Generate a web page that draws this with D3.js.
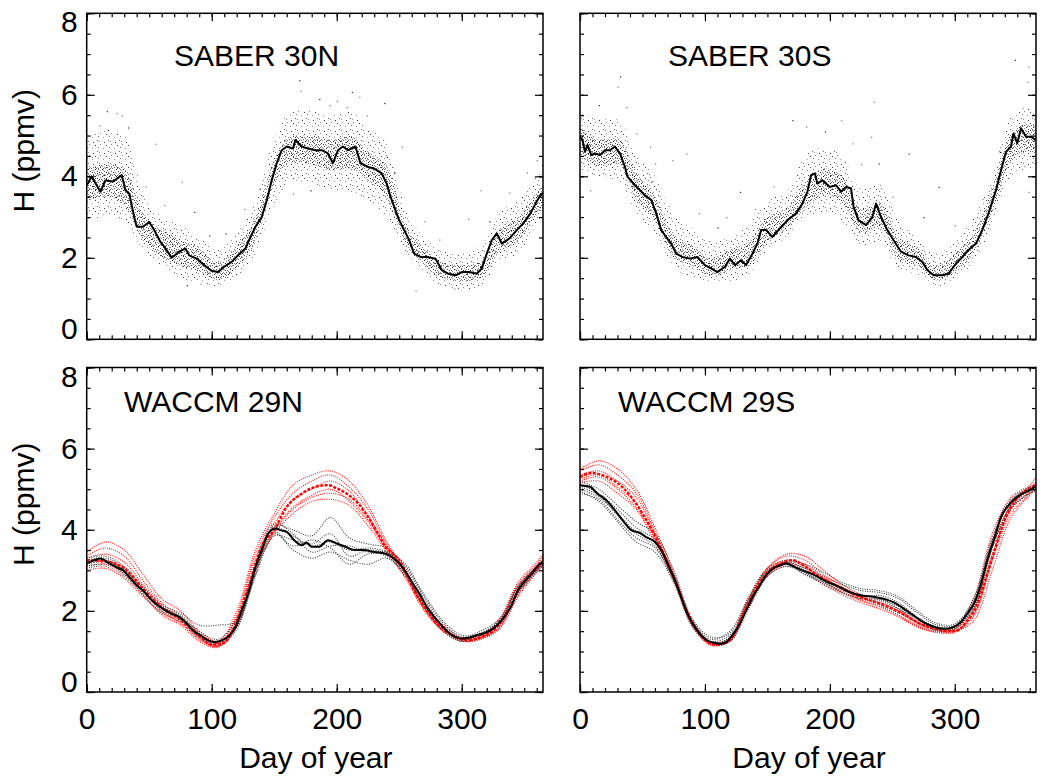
<!DOCTYPE html>
<html>
<head>
<meta charset="utf-8">
<script src="https://cdn.jsdelivr.net/npm/d3@7"></script>
<style>
  body { margin: 0; background: #fff; }
  svg text { font-family: "Liberation Sans", Arial, Helvetica, sans-serif; fill: #000; }
</style>
</head>
<body>
<svg id="chart" width="1041" height="778"></svg>
<script>
// ---- data (H in ppmv against day of year) ----

// SABER 30N : running line
var saberNDays = [0,4,11,15,21,28,31,34,38,40,45,50,54,59,63,68,74,79,82,88,94,100,105,110,116,121,127,131,135,140,
  144,148,152,156,160,165,167,172,177,183,188,193,197,201,205,209,215,219,225,230,236,240,243,246,250,254,258,262,267,272,
  279,284,289,295,300,306,312,316,320,324,328,332,338,344,349,355,359,363,365];
var saberNVals = [3.78,3.99,3.62,3.9,3.87,4.03,3.66,3.58,3.0,2.76,2.76,2.88,2.68,2.39,2.23,2.0,2.15,2.23,2.06,1.98,
  1.82,1.68,1.65,1.78,1.9,2.06,2.23,2.51,2.76,3.0,3.41,3.9,4.32,4.64,4.73,4.68,4.89,4.73,4.68,4.64,
  4.64,4.56,4.32,4.64,4.73,4.64,4.73,4.32,4.23,4.19,4.07,3.82,3.5,3.25,2.92,2.68,2.43,2.1,2.02,2.02,
  1.98,1.7,1.61,1.57,1.65,1.65,1.61,1.74,2.1,2.43,2.6,2.35,2.47,2.68,2.84,3.09,3.33,3.54,3.6];

// SABER 30S : running line
var saberSDays = [0,2,4,6,9,12,16,20,24,28,32,36,38,44,48,53,57,61,65,69,73,77,82,88,94,100,105,110,116,120,
  124,129,133,138,142,145,149,154,160,166,173,178,182,185,188,190,194,200,205,209,213,217,219,223,229,234,237,241,246,251,
  257,263,269,274,278,283,290,295,301,306,311,317,322,327,333,337,341,345,347,350,353,357,361,365];
var saberSVals = [4.97,4.89,4.6,4.77,4.52,4.56,4.52,4.64,4.64,4.73,4.56,4.23,3.99,3.78,3.66,3.5,3.42,3.09,2.68,2.51,
  2.35,2.1,2.02,1.98,2.02,1.82,1.74,1.65,1.78,1.98,1.82,1.94,1.82,2.1,2.35,2.68,2.68,2.51,2.72,2.92,
  3.09,3.33,3.62,4.03,4.07,3.82,3.9,3.74,3.78,3.62,3.74,3.7,3.25,2.92,2.8,3.0,3.33,3.0,2.68,2.43,
  2.15,2.06,2.02,1.9,1.7,1.57,1.57,1.61,1.86,2.02,2.19,2.35,2.68,3.09,3.66,4.15,4.6,4.73,5.05,4.81,
  5.18,4.97,4.97,4.89];

// extent of the daily SABER scatter (sparse outer cloud, dense inner cloud)
var cloudDays = [0,15,30,45,60,75,90,105,120,135,150,165,180,195,210,225,240,255,270,285,300,315,330,345,360,365];
var saberNOuterLo = [2.9,3.0,2.9,2.2,1.8,1.5,1.4,1.3,1.5,2.1,3.3,3.9,3.8,3.7,3.6,3.4,3.0,2.1,1.6,1.3,1.2,1.3,1.9,2.1,2.8,3.0];
var saberNOuterHi = [4.9,5.1,5.0,3.6,3.0,2.8,2.5,2.2,2.6,3.4,4.9,5.6,5.6,5.5,5.6,5.2,4.8,3.2,2.5,2.2,2.1,2.3,3.1,3.4,4.0,4.2];
var saberNInnerLo = [3.4,3.5,3.3,2.45,2.0,1.8,1.65,1.45,1.75,2.4,3.8,4.35,4.3,4.15,4.2,3.9,3.45,2.35,1.82,1.48,1.42,1.5,2.15,2.4,3.05,3.25];
var saberNInnerHi = [4.2,4.3,4.2,3.1,2.7,2.45,2.25,1.9,2.3,3.0,4.4,5.0,5.0,4.9,5.0,4.6,4.25,2.85,2.22,1.9,1.82,1.9,2.7,3.0,3.6,3.8];
var saberSOuterLo = [4.1,4.0,3.9,3.1,2.6,1.8,1.5,1.4,1.4,1.6,2.2,2.5,3.0,3.1,2.9,2.3,2.4,1.7,1.6,1.3,1.5,1.9,2.8,4.0,4.2,4.3];
var saberSOuterHi = [5.6,5.4,5.4,4.6,4.0,3.1,2.7,2.4,2.5,2.8,3.4,3.6,4.5,4.7,4.5,3.7,3.8,2.9,2.5,2.1,2.4,3.0,4.0,5.5,5.7,5.6];
var saberSInnerLo = [4.5,4.25,4.3,3.45,2.9,2.0,1.8,1.55,1.7,1.8,2.4,2.7,3.2,3.55,3.35,2.6,2.75,1.95,1.8,1.45,1.65,2.1,3.1,4.35,4.6,4.6];
var saberSInnerHi = [5.25,4.9,4.95,4.1,3.5,2.55,2.3,2.0,2.2,2.4,3.0,3.2,3.85,4.2,4.0,3.2,3.35,2.5,2.25,1.8,2.1,2.6,3.7,5.05,5.3,5.25];

// scattered SABER points lying away from the cloud
var saberNOutDays = [170,171,218,212,208,194,238,24,28,16,55,76,86,315,305,240,229,165,179,252,4,17,360,364,111,263,294,80,91,
  10,33,47,62,98,126,138,186,200,224,246,270,282,322,338,352];
var saberNOutVals = [6.36,6.1,5.95,6.07,5.7,5.75,5.8,5.55,5.5,5.6,4.8,3.87,3.13,3.66,2.96,4.48,3.9,3.58,3.66,4.73,4.48,5.14,4.4,4.28,2.6,1.2,1.25,1.33,1.37,
  5.25,5.2,3.75,3.3,2.55,3.2,3.7,5.9,5.85,5.5,4.1,2.9,2.45,2.9,3.6,4.1];
var saberSOutDays = [32,30,235,348,359,358,263,209,233,128,74,60,57,8,359,239,181,218,170,117,85,287,56,37,
  15,45,95,110,140,155,196,225,250,275,300,322,336];
var saberSOutVals = [6.45,6.2,5.83,6.86,6.69,6.32,4.56,5.38,4.97,3.62,4.4,4.32,3.87,3.66,3.62,4.32,5.22,4.81,5.38,3.0,4.56,3.74,4.73,5.7,
  5.75,5.05,3.1,2.75,3.2,3.75,5.1,4.3,3.5,3.0,2.8,3.45,4.6];

// WACCM 29N : ensemble means
var waccmNBlackDays = [0,6,11,18,24,29,35,40,46,52,57,63,68,74,80,85,91,96,102,107,113,119,124,130,135,141,145,151,155,160,
  166,172,176,180,186,193,200,207,214,222,230,239,244,250,256,261,267,272,278,284,289,295,300,306,312,317,323,328,334,340,
  345,351,356,363,365];
var waccmNBlackVals = [3.17,3.25,3.29,3.17,3.08,3.0,2.8,2.63,2.47,2.26,2.14,2.01,1.93,1.85,1.69,1.52,1.4,1.29,1.23,1.26,
  1.36,1.6,2.01,2.51,3.08,3.58,3.9,4.03,3.99,3.95,3.74,3.62,3.68,3.58,3.58,3.74,3.66,3.58,3.5,3.5,
  3.45,3.41,3.33,3.17,2.92,2.67,2.38,2.1,1.85,1.64,1.48,1.36,1.32,1.34,1.4,1.44,1.52,1.64,1.85,2.14,
  2.51,2.75,2.92,3.17,3.2];
var waccmNRedDays = [0,15,30,45,60,75,90,100,110,120,130,140,150,160,172,183,193,200,208,217,225,233,239,245,250,256,262,270,280,290,
  300,306,315,325,333,340,347,355,365];
var waccmNRedVals = [3.25,3.22,3.05,2.55,2.08,1.78,1.38,1.17,1.22,1.75,2.65,3.6,4.0,4.56,4.89,5.06,5.1,5.02,4.89,4.65,
  4.32,3.9,3.58,3.4,3.25,2.9,2.5,2.1,1.7,1.45,1.3,1.28,1.35,1.5,1.8,2.2,2.6,2.9,3.2];

// WACCM 29S : ensemble means
var waccmSBlackDays = [0,8,14,21,28,34,41,48,53,60,65,70,76,81,86,92,97,102,108,113,117,122,128,133,138,144,149,154,160,165,
  172,178,185,192,198,205,212,218,225,232,238,245,252,258,265,272,278,285,292,298,305,310,316,321,326,332,337,342,347,354,
  360,365];
var waccmSBlackVals = [5.1,5.06,4.89,4.73,4.48,4.24,3.99,3.92,3.82,3.7,3.5,3.17,2.75,2.34,1.93,1.6,1.4,1.27,1.21,1.19,
  1.23,1.4,1.69,2.01,2.34,2.63,2.88,3.04,3.12,3.17,3.08,3.0,2.92,2.81,2.71,2.63,2.52,2.44,2.38,2.36,
  2.33,2.28,2.2,2.08,1.93,1.78,1.67,1.59,1.56,1.59,1.73,1.93,2.22,2.67,3.25,3.82,4.32,4.56,4.73,4.89,
  4.98,5.07];
var waccmSRedDays = [0,10,20,30,40,50,60,70,80,90,100,110,120,130,140,150,160,170,180,190,200,210,220,230,240,250,260,270,280,290,
  300,310,318,325,332,340,348,356,365];
var waccmSRedVals = [5.3,5.4,5.32,5.15,4.85,4.4,3.85,3.2,2.42,1.72,1.3,1.17,1.27,1.9,2.5,2.95,3.15,3.25,3.1,2.88,
  2.7,2.55,2.4,2.28,2.18,2.05,1.9,1.72,1.6,1.52,1.5,1.75,2.15,2.8,3.5,4.25,4.7,4.95,5.1];

// individual WACCM runs
var memberDays = [0,15,30,45,60,75,90,105,120,135,150,165,180,195,210,225,240,255,270,285,300,315,330,345,360,365];
var waccmNBlackRuns = [
  [3.3,3.35,3.1,2.6,2.15,1.95,1.65,1.65,1.75,2.9,4.1,4.0,3.85,4.3,3.8,3.65,3.55,3.1,2.4,1.75,1.4,1.45,1.75,2.6,3.1,3.25],
  [3.05,3.1,2.85,2.4,1.95,1.75,1.35,1.15,1.55,3.1,3.95,3.5,3.3,3.45,3.25,3.15,3.3,2.9,2.1,1.5,1.25,1.35,1.65,2.45,2.95,3.1],
  [3.2,3.25,3.0,2.55,2.1,1.9,1.45,1.2,1.7,3.0,4.05,3.85,3.6,3.7,3.5,3.55,3.45,3.05,2.3,1.6,1.3,1.45,1.75,2.55,3.05,3.2],
  [3.1,3.15,2.95,2.45,2.05,1.8,1.38,1.22,1.62,2.95,3.9,3.6,3.75,3.55,3.15,3.4,3.35,2.85,2.15,1.55,1.3,1.4,1.65,2.45,3.0,3.15],
  [3.25,3.3,3.05,2.5,2.1,1.85,1.5,1.3,1.8,3.15,4.15,3.9,3.45,3.6,3.6,3.45,3.45,3.15,2.35,1.7,1.35,1.5,1.8,2.6,3.1,3.25],
  [3.15,3.2,2.9,2.5,2.0,1.8,1.4,1.25,1.6,2.85,3.85,3.75,3.65,3.9,3.35,3.5,3.4,2.95,2.2,1.6,1.28,1.42,1.7,2.5,3.0,3.15]
];
var waccmNRedRuns = [
  [3.45,3.7,3.5,2.9,2.3,2.0,1.5,1.25,2.0,3.5,4.4,5.1,5.35,5.45,5.2,4.6,3.7,3.0,2.2,1.65,1.35,1.4,1.8,2.7,3.2,3.4],
  [3.1,3.15,2.9,2.4,1.9,1.65,1.25,1.1,1.6,3.0,3.9,4.4,4.7,4.75,4.6,4.1,3.45,2.8,2.0,1.5,1.25,1.3,1.55,2.35,2.95,3.15],
  [3.3,3.4,3.2,2.65,2.15,1.8,1.4,1.15,1.85,3.3,4.15,4.75,5.0,5.2,4.95,4.35,3.6,2.95,2.1,1.55,1.3,1.35,1.7,2.6,3.1,3.3],
  [3.0,3.05,2.8,2.35,1.95,1.7,1.3,1.12,1.7,3.1,4.0,4.55,4.85,5.0,4.7,4.2,3.5,2.85,2.05,1.5,1.25,1.33,1.6,2.4,3.0,3.2],
  [3.35,3.55,3.35,2.75,2.2,1.85,1.45,1.2,1.9,3.4,4.3,4.9,5.2,5.35,5.05,4.5,3.65,2.95,2.15,1.6,1.3,1.38,1.75,2.65,3.15,3.35],
  [3.15,3.25,3.0,2.5,2.0,1.72,1.32,1.12,1.65,3.05,3.95,4.5,4.8,4.9,4.75,4.25,3.55,2.9,2.05,1.52,1.27,1.3,1.58,2.45,3.0,3.2]
];
var waccmSBlackRuns = [
  [5.2,5.0,4.6,4.2,3.9,3.0,1.8,1.35,1.45,2.35,3.05,3.25,3.15,2.95,2.7,2.55,2.5,2.35,2.0,1.7,1.68,2.3,3.8,4.75,5.05,5.1],
  [4.95,4.7,4.2,3.7,3.45,2.7,1.6,1.18,1.25,2.05,2.85,3.1,2.9,2.65,2.45,2.3,2.2,2.0,1.7,1.52,1.55,2.05,3.4,4.5,4.9,5.0],
  [5.05,4.85,4.35,3.9,3.6,2.75,1.72,1.22,1.35,2.2,2.95,3.2,3.0,2.8,2.55,2.35,2.38,2.2,1.85,1.62,1.6,2.2,3.7,4.7,5.0,5.05],
  [5.0,4.8,4.4,3.95,3.7,2.85,1.65,1.25,1.4,2.1,2.9,3.15,2.95,2.7,2.5,2.4,2.3,2.1,1.78,1.58,1.58,2.1,3.55,4.6,4.95,5.0],
  [5.1,4.9,4.5,4.05,3.75,2.9,1.75,1.3,1.5,2.3,3.0,3.2,3.05,2.85,2.65,2.5,2.45,2.3,1.95,1.66,1.65,2.25,3.75,4.7,5.0,5.05],
  [4.9,4.75,4.25,3.8,3.55,2.75,1.68,1.2,1.3,2.15,2.9,3.15,2.9,2.7,2.45,2.3,2.28,2.05,1.72,1.55,1.57,2.15,3.6,4.55,4.9,4.95]
];
var waccmSRedRuns = [
  [5.5,5.7,5.5,5.0,4.05,2.95,1.75,1.22,1.35,2.3,3.05,3.4,3.35,3.0,2.65,2.4,2.25,2.05,1.8,1.6,1.6,2.3,3.9,4.8,5.1,5.3],
  [5.15,5.2,4.9,4.5,3.7,2.75,1.62,1.15,1.25,2.1,2.85,3.1,2.95,2.65,2.4,2.2,2.05,1.85,1.6,1.48,1.5,1.75,3.0,4.3,4.85,5.0],
  [5.35,5.45,5.2,4.8,3.9,2.85,1.7,1.2,1.32,2.25,3.0,3.25,3.15,2.85,2.55,2.35,2.2,2.0,1.72,1.55,1.52,1.9,3.35,4.5,4.95,5.15],
  [5.25,5.35,5.05,4.65,3.8,2.8,1.65,1.18,1.28,2.15,2.9,3.15,3.05,2.75,2.45,2.25,2.1,1.9,1.65,1.5,1.55,2.05,3.55,4.6,5.0,5.1],
  [5.45,5.6,5.35,4.9,3.95,2.9,1.72,1.2,1.3,2.28,3.05,3.35,3.25,2.9,2.6,2.35,2.15,1.95,1.7,1.52,1.5,1.85,3.25,4.4,4.9,5.2],
  [5.2,5.3,5.0,4.55,3.75,2.8,1.66,1.17,1.27,2.12,2.88,3.2,3.1,2.8,2.5,2.28,2.12,1.88,1.62,1.47,1.48,2.0,3.7,4.7,5.05,5.15]
];

// axis ticks
var xMajorTicks = [0, 100, 200, 300];
var xMinorTicks = d3.range(0, 366, 10);
var yMajorTicks = [0, 2, 4, 6, 8];
var yMinorTicks = d3.range(0, 8.01, 0.5);

// ---- layout ----
var FONT = '"Liberation Sans", Arial, Helvetica, sans-serif';
var svg = d3.select("#chart");
var defs = svg.append("defs");

function zip(days, vals) {
  return days.map(function (d, i) { return { day: d, v: vals[i] }; });
}
function zipBand(days, lo, hi) {
  return days.map(function (d, i) { return { day: d, lo: lo[i], hi: hi[i] }; });
}

// stipple textures standing in for the thousands of daily SABER dots
function addDotPattern(id, w, h, dots) {
  var p = defs.append("pattern").attr("id", id)
      .attr("patternUnits", "userSpaceOnUse")
      .attr("width", w).attr("height", h);
  dots.forEach(function (d) {
    p.append("rect").attr("x", d[0]).attr("y", d[1])
      .attr("width", 1).attr("height", 1).attr("fill", d[2]);
  });
}
addDotPattern("dense", 7, 7, [[0,0,"#777"],[4,1,"#222"],[2,2,"#888"],[6,3,"#555"],[1,4,"#333"],[4,5,"#888"],[2,6,"#555"],[6,6,"#999"],[5,0,"#666"],[3,4,"#777"]]);
addDotPattern("sparse", 11, 11, [[1,1,"#888"],[7,2,"#444"],[4,5,"#999"],[9,8,"#666"],[0,9,"#888"],[5,10,"#333"],[10,4,"#777"]]);

var panels = [
  { name: "sn", title: "SABER 30N", left: 86.7, right: 543, top: 13.3, bottom: 339.3,
    tx: 174, ty: 65.7, yLab: true, xLab: false, kind: "saber",
    line: zip(saberNDays, saberNVals),
    outer: zipBand(cloudDays, saberNOuterLo, saberNOuterHi),
    inner: zipBand(cloudDays, saberNInnerLo, saberNInnerHi),
    pts: zip(saberNOutDays, saberNOutVals) },
  { name: "ss", title: "SABER 30S", left: 580, right: 1036, top: 13.3, bottom: 339.3,
    tx: 668, ty: 65.7, yLab: false, xLab: false, kind: "saber",
    line: zip(saberSDays, saberSVals),
    outer: zipBand(cloudDays, saberSOuterLo, saberSOuterHi),
    inner: zipBand(cloudDays, saberSInnerLo, saberSInnerHi),
    pts: zip(saberSOutDays, saberSOutVals) },
  { name: "wn", title: "WACCM 29N", left: 86.7, right: 543, top: 367.5, bottom: 692,
    tx: 124, ty: 411.7, yLab: true, xLab: true, kind: "waccm",
    black: zip(waccmNBlackDays, waccmNBlackVals), red: zip(waccmNRedDays, waccmNRedVals),
    blackRuns: waccmNBlackRuns, redRuns: waccmNRedRuns },
  { name: "ws", title: "WACCM 29S", left: 580, right: 1036, top: 367.5, bottom: 692,
    tx: 618, ty: 411.7, yLab: false, xLab: true, kind: "waccm",
    black: zip(waccmSBlackDays, waccmSBlackVals), red: zip(waccmSRedDays, waccmSRedVals),
    blackRuns: waccmSBlackRuns, redRuns: waccmSRedRuns }
];

function drawPanel(p) {
  var x = d3.scaleLinear().domain([0, 365]).range([p.left, p.right]);
  var y = d3.scaleLinear().domain([0, 8]).range([p.bottom, p.top]);

  defs.append("clipPath").attr("id", "clip-" + p.name)
    .append("rect").attr("x", p.left).attr("y", p.top)
    .attr("width", p.right - p.left).attr("height", p.bottom - p.top);

  var g = svg.append("g");
  var plot = g.append("g").attr("clip-path", "url(#clip-" + p.name + ")");

  var line = d3.line().x(function (d) { return x(d.day); }).y(function (d) { return y(d.v); });

  if (p.kind === "saber") {
    var band = d3.area().curve(d3.curveMonotoneX)
        .x(function (d) { return x(d.day); })
        .y0(function (d) { return y(d.lo); })
        .y1(function (d) { return y(d.hi); });
    plot.append("path").datum(p.outer).attr("d", band).attr("fill", "url(#sparse)");
    plot.append("path").datum(p.inner).attr("d", band).attr("fill", "url(#dense)");
    plot.selectAll(".pt").data(p.pts).enter().append("rect")
        .attr("x", function (d) { return x(d.day); })
        .attr("y", function (d) { return y(d.v); })
        .attr("width", 1.2).attr("height", 1.2)
        .attr("fill", function (d, i) { return i % 3 ? "#777" : "#222"; });
    plot.append("path").datum(p.line).attr("d", line)
        .attr("fill", "none").attr("stroke", "#000").attr("stroke-width", 2)
        .attr("stroke-linejoin", "round");
  } else {
    var runLine = d3.line().curve(d3.curveCatmullRom)
        .x(function (d, i) { return x(memberDays[i]); })
        .y(function (d) { return y(d); });
    p.redRuns.forEach(function (r) {
      plot.append("path").datum(r).attr("d", runLine)
        .attr("fill", "none").attr("stroke", "#ff1010").attr("stroke-width", 1.1)
        .attr("stroke-dasharray", "1,1.2");
    });
    p.blackRuns.forEach(function (r) {
      plot.append("path").datum(r).attr("d", runLine)
        .attr("fill", "none").attr("stroke", "#3a3a3a").attr("stroke-width", 1.1)
        .attr("stroke-dasharray", "1,1.4");
    });
    plot.append("path").datum(p.red).attr("d", line.curve(d3.curveMonotoneX))
        .attr("fill", "none").attr("stroke", "#ff0000").attr("stroke-width", 2.4)
        .attr("stroke-dasharray", "3,1.5");
    plot.append("path").datum(p.black).attr("d", line.curve(d3.curveMonotoneX))
        .attr("fill", "none").attr("stroke", "#000").attr("stroke-width", 2);
  }

  // inward ticks on all four sides
  function ticks(axis, tr, vals, size, fmt, pad) {
    var a = g.append("g").attr("transform", tr)
      .call(axis.tickValues(vals).tickSize(size).tickPadding(pad || 3).tickFormat(fmt || ""));
    a.select(".domain").remove();
    a.selectAll("line").attr("stroke-width", 1.2);
    a.attr("font-size", 30).attr("font-family", FONT);
    return a;
  }
  var fmt = d3.format("d");
  ticks(d3.axisBottom(x), "translate(0," + p.bottom + ")", xMinorTicks, -4);
  ticks(d3.axisTop(x), "translate(0," + p.top + ")", xMinorTicks, -4);
  ticks(d3.axisBottom(x), "translate(0," + p.bottom + ")", xMajorTicks, -8, p.xLab ? fmt : null, 16);
  ticks(d3.axisTop(x), "translate(0," + p.top + ")", xMajorTicks, -8);
  ticks(d3.axisLeft(y), "translate(" + p.left + ",0)", yMinorTicks, -4);
  ticks(d3.axisRight(y), "translate(" + p.right + ",0)", yMinorTicks, -4);
  var yl = ticks(d3.axisLeft(y), "translate(" + p.left + ",0)", yMajorTicks, -8, p.yLab ? fmt : null, 9);
  ticks(d3.axisRight(y), "translate(" + p.right + ",0)", yMajorTicks, -8);
  // end labels are pulled inside the frame
  yl.selectAll("text").attr("y", function (d) { return d === 8 ? 9 : (d === 0 ? -10 : 0); });

  g.append("rect").attr("x", p.left).attr("y", p.top)
    .attr("width", p.right - p.left).attr("height", p.bottom - p.top)
    .attr("fill", "none").attr("stroke", "#000").attr("stroke-width", 1.5);

  g.append("text").attr("x", p.tx).attr("y", p.ty)
    .attr("font-size", 30).text(p.title);

  if (p.yLab) {
    g.append("text")
      .attr("transform", "translate(34," + (p.top + (p.bottom - p.top) / 2 - 25.5) + ") rotate(-90)")
      .attr("text-anchor", "middle").attr("font-size", 30).text("H (ppmv)");
  }
  if (p.xLab) {
    g.append("text").attr("x", (p.left + p.right) / 2 + 1).attr("y", 768)
      .attr("text-anchor", "middle").attr("font-size", 30).text("Day of year");
  }
}

panels.forEach(drawPanel);
</script>
</body>
</html>
